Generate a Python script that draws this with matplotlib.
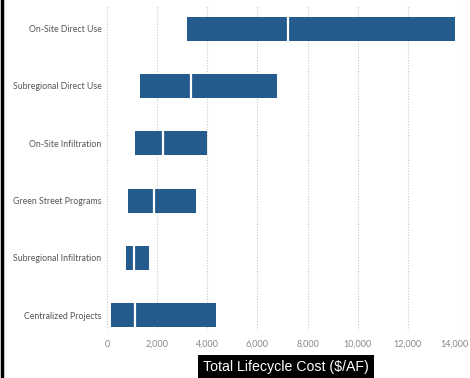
import matplotlib.pyplot as plt
from matplotlib.lines import Line2D
from matplotlib.transforms import offset_copy

# lifecycle cost ranges per project type, $/AF (low, typical, high)
categories = ["On-Site Direct Use", "Subregional Direct Use", "On-Site Infiltration",
              "Green Street Programs", "Subregional Infiltration", "Centralized Projects"]
low_cost = [3200, 1300, 1100, 850, 750, 150]
mid_cost = [7200, 3350, 2250, 1870, 1080, 1100]
high_cost = [13900, 6800, 4000, 3550, 1680, 4350]
x_ticks = [0, 2000, 4000, 6000, 8000, 10000, 12000, 14000]

barColor = "#245b8d"
barHeight = 0.42

fig = plt.figure(figsize=(4.7, 3.78), dpi=100)
ax = fig.add_axes([107 / 470, 1 - 330 / 378, 351 / 470, 325 / 378])

y = list(range(len(categories)))
widths = [h - l for l, h in zip(low_cost, high_cost)]
ax.barh(y, widths, left=low_cost, height=barHeight, color=barColor, zorder=2)
# white divider marking the typical cost inside each range
for yi, m in zip(y, mid_cost):
    ax.plot([m, m], [yi - barHeight / 2, yi + barHeight / 2], color="white", lw=1.6, zorder=3)

ax.set_xlim(0, 14000)
ax.set_ylim(5.26, -0.414)
ax.set_xticks(x_ticks)
ax.set_xticklabels([f"{t:,}" for t in x_ticks], fontsize=6.5, color="#888888", family="Lato")
ax.set_yticks(y)
ax.set_yticklabels(categories, fontsize=6.3, color="#555555", family="Lato")
ax.tick_params(length=0, pad=7)
ax.tick_params(axis="y", pad=4)
ax.grid(axis="x", linestyle=(0, (1, 1.5)), color="#c8c8c8", lw=0.8, zorder=0)
for s in ax.spines.values():
    s.set_visible(False)

# nudge the last tick label so it stays inside the figure
lastLabel = ax.get_xticklabels()[-1]
lastLabel.set_transform(offset_copy(lastLabel.get_transform(), fig=fig, x=-3.5, units="dots"))

fig.text(0.609, 0.029, "Total Lifecycle Cost ($/AF)", color="white", fontsize=10.2,
         family="Liberation Sans", ha="center", va="center",
         bbox=dict(facecolor="black", edgecolor="none", boxstyle="square,pad=0.35"))

# black frame line down the left side
fig.add_artist(Line2D([0.0035, 0.0035], [0, 1], color="black", lw=2.5, transform=fig.transFigure))

fig.savefig("out.png", dpi=100)
